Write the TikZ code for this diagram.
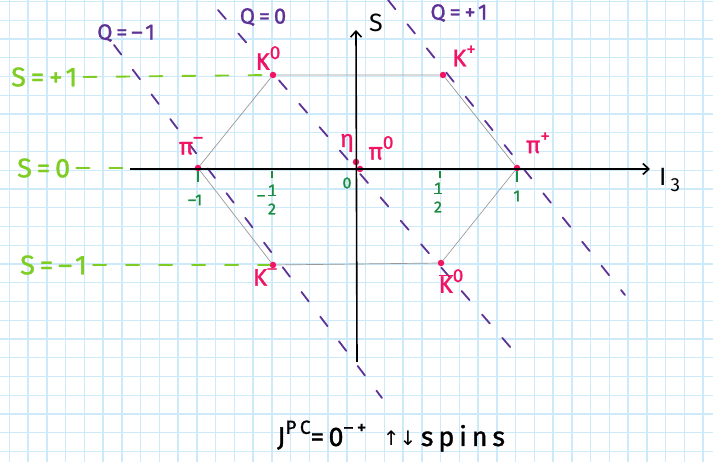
\documentclass[tikz,border=0pt]{standalone}
\usepackage{fontspec}
\setmainfont{Fira Sans}
\newfontfamily\handfont[LetterSpace=18,FakeBold=1.2]{Fira Sans}
\newfontfamily\markfont[FakeBold=1.2]{Fira Sans}
\newfontfamily\arrowfont{DejaVu Sans}
\usetikzlibrary{arrows.meta}
\definecolor{gridblue}{RGB}{204,234,250}
\definecolor{mesonpink}{RGB}{240,20,100}
\definecolor{qpurple}{RGB}{95,50,150}
\definecolor{slime}{RGB}{125,205,35}
\definecolor{tickgreen}{RGB}{25,140,65}
\newcommand{\hsup}[1]{\raisebox{0.45em}{\fontsize{19}{19}\selectfont #1}}
\tikzset{
  gridline/.style={gridblue,line width=1.4pt},
  meson/.style={circle,fill=mesonpink,inner sep=0pt,minimum size=6.5pt},
  mlabel/.style={text=mesonpink,inner sep=0pt,font=\markfont\fontsize{24}{26}\selectfont},
  slabel/.style={text=slime,inner sep=0pt,font=\handfont\fontsize{27}{29}\selectfont},
  qlabel/.style={text=qpurple,inner sep=0pt,font=\handfont\fontsize{22}{24}\selectfont},
  ticklabel/.style={text=tickgreen,inner sep=0pt,font=\markfont\fontsize{16}{17}\selectfont},
  sline/.style={slime,line width=1.9pt,line cap=round,dash pattern=on 13pt off 20pt},
  qline/.style={qpurple,line width=1.8pt,line cap=round,dash pattern=on 12pt off 19pt},
  hexline/.style={black!40,line width=0.7pt},
  axis/.style={black,line width=1.6pt,-{Straight Barb[length=6pt,width=11pt]}},
  tickmark/.style={tickgreen,line width=1.6pt}
}
\begin{document}
\begin{tikzpicture}[x=1pt,y=-1pt]
  \useasboundingbox (0,0) rectangle (713,462);
  \fill[white] (0,0) rectangle (713,462);
  % squared paper
  \foreach \gx in {0,...,37}
    \draw[gridline] ({9.4+18.75*\gx},0) -- ({9.4+18.75*\gx},462);
  \foreach \gy in {0,...,24}
    \draw[gridline] (0,{1.5+18.75*\gy}) -- (713,{1.5+18.75*\gy});

  % charge lines
  \coordinate (qma) at (114,45);
  \coordinate (qmb) at (382,398);
  \coordinate (qza) at (218,10);
  \coordinate (qzb) at (518,356);
  \coordinate (qpa) at (388,0);
  \coordinate (qpb) at (625,295);
  \draw[qline] (qma) -- (qmb);
  \draw[qline] (qza) -- (qzb);
  \draw[qline] (qpa) -- (qpb);
  \node[qlabel] (qm) at (126,33) {Q=–1};
  \node[qlabel] (qz) at (263,17) {Q=0};
  \node[qlabel] (qp) at (459,13) {Q=+1};

  % mesons
  \node[meson] (kz) at (273,75) {};
  \node[meson] (kp) at (443,75) {};
  \node[meson] (pim) at (198,168) {};
  \node[meson] (pip) at (517,168) {};
  \node[meson] (eta) at (356,162) {};
  \node[meson] (piz) at (360,169) {};
  \node[meson] (km) at (273,265) {};
  \node[meson] (kzb) at (441,263) {};
  \draw[hexline] (kz) -- (kp) -- (pip) -- (kzb) -- (km) -- (pim) -- (kz);

  % strangeness lines
  \node[slabel,anchor=west] (splus) at (11,77) {S=+1};
  \node[slabel,anchor=west] (szero) at (17,168) {S=0};
  \node[slabel,anchor=west] (sminus) at (20,265) {S=–1};
  \coordinate (szend) at (130,168);
  \draw[sline] ([xshift=6pt]splus.east) -- (kz);
  \draw[sline] ([xshift=6pt]szero.east) -- (szend);
  \draw[sline] ([xshift=6pt]sminus.east) -- (km);

  % axes
  \coordinate (ibeg) at (130,169);
  \coordinate (iend) at (650,169);
  \coordinate (sbeg) at (357,362);
  \coordinate (send) at (356,30);
  \draw[axis] (ibeg) -- (iend);
  \draw[axis] (sbeg) -- (send);
  \node[inner sep=0pt,font=\fontsize{25}{26}\selectfont,anchor=west] (ithree) at (659,180) {I\,\raisebox{-6pt}{\fontsize{19}{20}\selectfont 3}};
  \node[inner sep=0pt,font=\fontsize{25}{26}\selectfont] (saxis) at (376,23) {S};

  % ticks
  \foreach \tx/\ty in {198/182,272/178,440/178,517/182}
    \draw[tickmark] (\tx,171) -- (\tx,\ty);
  \node[ticklabel] (tma) at (195,200) {–1};
  \node[ticklabel] (tmbs) at (261,198) {–};
  \node[ticklabel] (tmbn) at (272,190) {1};
  \node[ticklabel] (tmbd) at (272,209) {2};
  \draw[tickgreen,line width=1.2pt] (tmbn.south west) -- (tmbn.south east);
  \node[ticklabel] (tz) at (347,183) {0};
  \node[ticklabel] (tpbn) at (438,188) {1};
  \node[ticklabel] (tpbd) at (438,207) {2};
  \draw[tickgreen,line width=1.2pt] (tpbn.south west) -- (tpbn.south east);
  \node[ticklabel] (tpa) at (517,196) {1};

  % meson names
  \node[mlabel] (lkz) at (268,58) {K\hsup{0}};
  \node[mlabel] (lkp) at (464,56) {K\hsup{+}};
  \node[mlabel] (lpim) at (191,146) {π\hsup{–}};
  \node[mlabel] (lpip) at (538,143) {π\hsup{+}};
  \node[mlabel] (lpiz) at (381,148) {π\hsup{0}};
  \node[mlabel] (leta) at (347,143) {η};
  \node[mlabel] (lkm) at (265,277) {K\hsup{–}};
  \node[mlabel] (lkzb) at (451,281) {$\overline{\hbox{K}}$\hsup{0}};

  % quantum numbers
  \node[inner sep=0pt,anchor=base west,font=\handfont\fontsize{27}{29}\selectfont] (jpc) at (277,446)
    {J\hsup{PC}=\,0\hsup{–+} \,{\arrowfont\fontsize{20}{22}\selectfont ↑↓}\,spins};
\end{tikzpicture}
\end{document}
